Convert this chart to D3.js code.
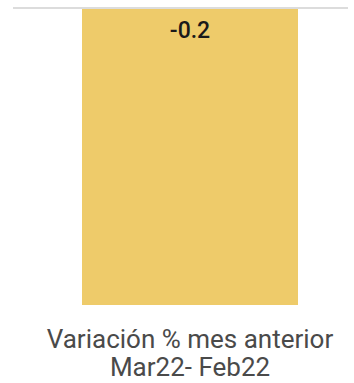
<!DOCTYPE html>
<html><head><meta charset="utf-8">
<script src="https://cdn.jsdelivr.net/npm/d3@7"></script>
<style>html,body{margin:0;padding:0;background:#fff;}svg{display:block;}</style>
</head><body>
<svg id="c" width="354" height="383"></svg>
<script>
const categories = ["Variación % mes anterior|Mar22- Feb22"];
const values = [-0.2];
const labels = ["-0.2"];

const svg = d3.select("#c");
const x = d3.scaleBand().domain(categories).range([82, 298]).padding(0);
const y = d3.scaleLinear().domain([-0.2, 0]).range([305, 8]);

svg.selectAll("rect.bar").data(values).join("rect")
  .attr("class","bar")
  .attr("x",(d,i)=>x(categories[i]))
  .attr("width",x.bandwidth())
  .attr("y",d=>y(Math.max(0,d)))
  .attr("height",d=>Math.abs(y(d)-y(0)))
  .attr("fill","#EECB6A");

svg.append("line").attr("x1",13).attr("x2",348).attr("y1",y(0)).attr("y2",y(0))
  .attr("stroke","#dcdcdc").attr("stroke-width",2);

svg.selectAll("text.val").data(values).join("text")
  .attr("class","val")
  .attr("x",(d,i)=>x(categories[i])+x.bandwidth()/2)
  .attr("y",y(0)+30)
  .attr("text-anchor","middle")
  .attr("font-family","Roboto, sans-serif")
  .attr("font-size",23).attr("font-weight",500).attr("fill","#1a1a1a")
  .text((d,i)=>labels[i]);

const xAxis = svg.append("g");
categories.forEach(c=>{
  const parts = c.split("|");
  const cx = x(c)+x.bandwidth()/2;
  const t = xAxis.append("text")
    .attr("text-anchor","middle")
    .attr("font-family","Roboto, sans-serif")
    .attr("font-size",26).attr("fill","#4a4a4a");
  parts.forEach((p,i)=>t.append("tspan").attr("x",cx).attr("y",348+i*28).text(p));
});
</script>
</body></html>
